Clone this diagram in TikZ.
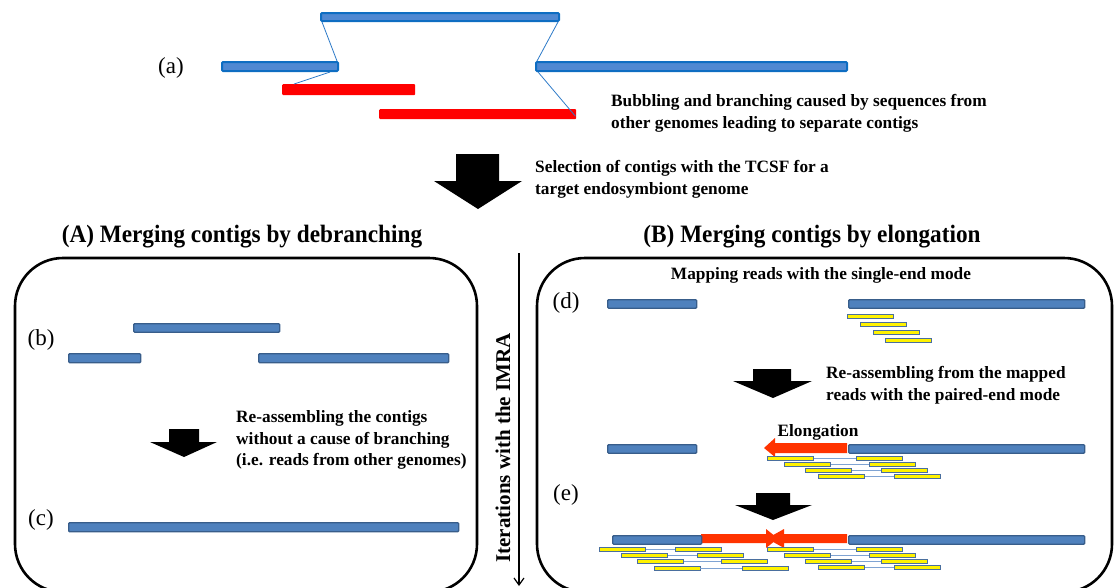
\documentclass[tikz,border=0pt]{standalone}
\usepackage{fontspec}
\setmainfont{Liberation Serif}
\usetikzlibrary{arrows.meta}
\definecolor{abarfill}{HTML}{4F88D2}
\definecolor{abarline}{HTML}{0E6DC2}
\definecolor{alink}{HTML}{2E7BC8}
\definecolor{barfill}{HTML}{4F81BD}
\definecolor{barline}{HTML}{385D8A}
\definecolor{elong}{HTML}{FF3300}
\definecolor{readline}{HTML}{4A6F9E}
\definecolor{pairline}{HTML}{7FA3D3}
\tikzset{
  abar/.style={draw=abarline, fill=abarfill, line width=2pt, rounded corners=1pt, inner sep=0, anchor=north west},
  redbar/.style={fill=red, rounded corners=1pt, inner sep=0, anchor=north west},
  cbar/.style={draw=barline, fill=barfill, line width=1.4pt, rounded corners=1pt, inner sep=0, anchor=north west},
  readbox/.style={draw=readline, fill=yellow, line width=0.8pt, inner sep=0, minimum height=4pt, minimum width=46pt, anchor=north west},
  pairln/.style={draw=pairline, line width=0.9pt},
  alinkln/.style={draw=alink, line width=0.8pt},
  blockarrow/.style={fill=black},
  elongarrow/.style={fill=elong},
  txt/.style={font=\bfseries\fontsize{17.3}{22}\selectfont, align=left, inner sep=0},
  itertxt/.style={font=\bfseries\fontsize{21}{24}\selectfont, inner sep=0},
  lbl/.style={font=\fontsize{23}{26}\selectfont, inner sep=0},
  head/.style={font=\bfseries\fontsize{25}{28}\selectfont, inner sep=0},
  panel/.style={draw=black, line width=2.6pt, rounded corners=48pt}
}
\begin{document}
\begin{tikzpicture}[x=1pt, y=-1pt]
\useasboundingbox (0,0) rectangle (1115,587);
\clip (0,0) rectangle (1115,587);

% ---------- (a) ----------
\node[lbl] (la) at (171,68) {(a)};
\node[abar, minimum width=238pt, minimum height=8pt] (top) at (320,12) {};
\node[abar, minimum width=116pt, minimum height=9pt] (left) at (221,61) {};
\node[abar, minimum width=311pt, minimum height=9pt] (right) at (535,61) {};
\node[redbar, minimum width=133pt, minimum height=11pt] (red1) at (282,84) {};
\node[redbar, minimum width=197pt, minimum height=10pt] (red2) at (379,109) {};
\draw[alinkln] ([xshift=2pt]top.south west) -- ([xshift=-2pt]left.north east);
\draw[alinkln] ([xshift=-9pt]left.south east) -- ([xshift=12pt]red1.north west);
\draw[alinkln] ([xshift=-2pt]top.south east) -- ([xshift=2pt]right.north west);
\draw[alinkln] ([xshift=3pt]right.south west) -- ([xshift=-1pt,yshift=-2pt]red2.east);
\node[txt, anchor=west] (bub) at (611,113) {Bubbling and branching caused by sequences from\\other genomes leading to separate contigs};

% ---------- selection arrow ----------
\fill[blockarrow] (456,154) -- (499,154) -- (499,181) -- (522,181) -- (478,209) -- (434,181) -- (456,181) -- cycle;
\node[txt, anchor=west] (sel) at (535,179) {Selection of contigs with the TCSF for a\\target endosymbiont genome};

% ---------- headings ----------
\node[head] (hA) at (242,237) {\scalebox{0.93}[1]{(A) Merging contigs by debranching}};
\node[head] (hB) at (812,237) {\scalebox{0.93}[1]{(B) Merging contigs by elongation}};

% ---------- iteration arrow ----------
\coordinate (itop) at (519,253);
\coordinate (ibot) at (519,586);
\draw[line width=1.2pt, -{Straight Barb[length=7pt,width=10pt,line width=1.2pt]}] (itop) -- (ibot);
\node[itertxt, rotate=90] (iter) at (503,448) {Iterations with the IMRA};

% ---------- panel A ----------
\draw[panel] (15,258) rectangle (477,592);
\node[lbl] (lb) at (41,340) {(b)};
\node[cbar, minimum width=146pt, minimum height=8.5pt] (b1) at (133,323) {};
\node[cbar, minimum width=72pt, minimum height=9pt] (b2) at (68,353) {};
\node[cbar, minimum width=190pt, minimum height=9pt] (b3) at (258,353) {};
\fill[blockarrow] (169,429) -- (199,429) -- (199,442) -- (217,442) -- (184,457) -- (150,442) -- (169,442) -- cycle;
\node[txt, anchor=west, font=\bfseries\fontsize{17.3}{21.5}\selectfont] (reA) at (236,440) {Re-assembling the contigs\\without a cause of branching\\(i.e. reads from other genomes)};
\node[lbl] (lc) at (41,520) {(c)};
\node[cbar, minimum width=390pt, minimum height=9pt] (c1) at (68,522) {};

% ---------- panel B ----------
\draw[panel] (537,258) rectangle (1112,592);
\node[txt] (map) at (821,275) {Mapping reads with the single-end mode};
\node[lbl] (ld) at (566,303) {(d)};
\node[cbar, minimum width=89pt, minimum height=8.5pt] (d1) at (607,299) {};
\node[cbar, minimum width=236pt, minimum height=8.5pt] (d2) at (848,299) {};
\node[readbox] (s1) at (847,313.5) {};
\node[readbox] (s2) at (860,322) {};
\node[readbox] (s3) at (873,330) {};
\node[readbox] (s4) at (885,338) {};
\fill[blockarrow] (753,369) -- (791,369) -- (791,381) -- (812,381) -- (773,398) -- (733,381) -- (753,381) -- cycle;
\node[txt, anchor=west] (reB) at (826,385) {Re-assembling from the mapped\\reads with the paired-end mode};

% elongation step
\node[txt] (elo) at (818,432) {Elongation};
\fill[elongarrow] (847,443) -- (775,443) -- (775,438) -- (764,448) -- (775,457) -- (775,453) -- (847,453) -- cycle;
\node[cbar, minimum width=89pt, minimum height=8.5pt] (e1) at (607,444) {};
\node[cbar, minimum width=236pt, minimum height=8.5pt] (e2) at (848,444) {};
\foreach \i/\xl/\xr/\y in {1/767/856/456, 2/784/868.5/462, 3/805/881/468, 4/818/894/474}{
  \node[readbox] (eL\i) at (\xl,\y) {};
  \node[readbox] (eR\i) at (\xr,\y) {};
  \draw[pairln] (eL\i.east) -- (eR\i.west);
}
\node[lbl] (le) at (566,495) {(e)};
\fill[blockarrow] (756,493) -- (790,493) -- (790,505) -- (812,505) -- (773,520) -- (735,505) -- (756,505) -- cycle;

% merged
\fill[elongarrow] (701,534) -- (766,534) -- (766,529) -- (778,538.5) -- (766,548) -- (766,543) -- (701,543) -- cycle;
\fill[elongarrow] (847,534) -- (784,534) -- (784,529) -- (767,538.5) -- (784,548) -- (784,543) -- (847,543) -- cycle;
\node[cbar, minimum width=89pt, minimum height=8.5pt] (f1) at (612,535) {};
\node[cbar, minimum width=236pt, minimum height=8.5pt] (f2) at (848,535) {};
\foreach \i/\xl/\xr/\y in {1/599/675/547, 2/621/696.5/553, 3/637/721/559, 4/653.6/742/565.6}{
  \node[readbox] (gL\i) at (\xl,\y) {};
  \node[readbox] (gR\i) at (\xr,\y) {};
  \draw[pairln] (gL\i.east) -- (gR\i.west);
}
\foreach \i/\xl/\xr/\y in {1/767/856/547, 2/784/868.5/553, 3/805/881/559, 4/818/894/565}{
  \node[readbox] (hL\i) at (\xl,\y) {};
  \node[readbox] (hR\i) at (\xr,\y) {};
  \draw[pairln] (hL\i.east) -- (hR\i.west);
}
\end{tikzpicture}
\end{document}
